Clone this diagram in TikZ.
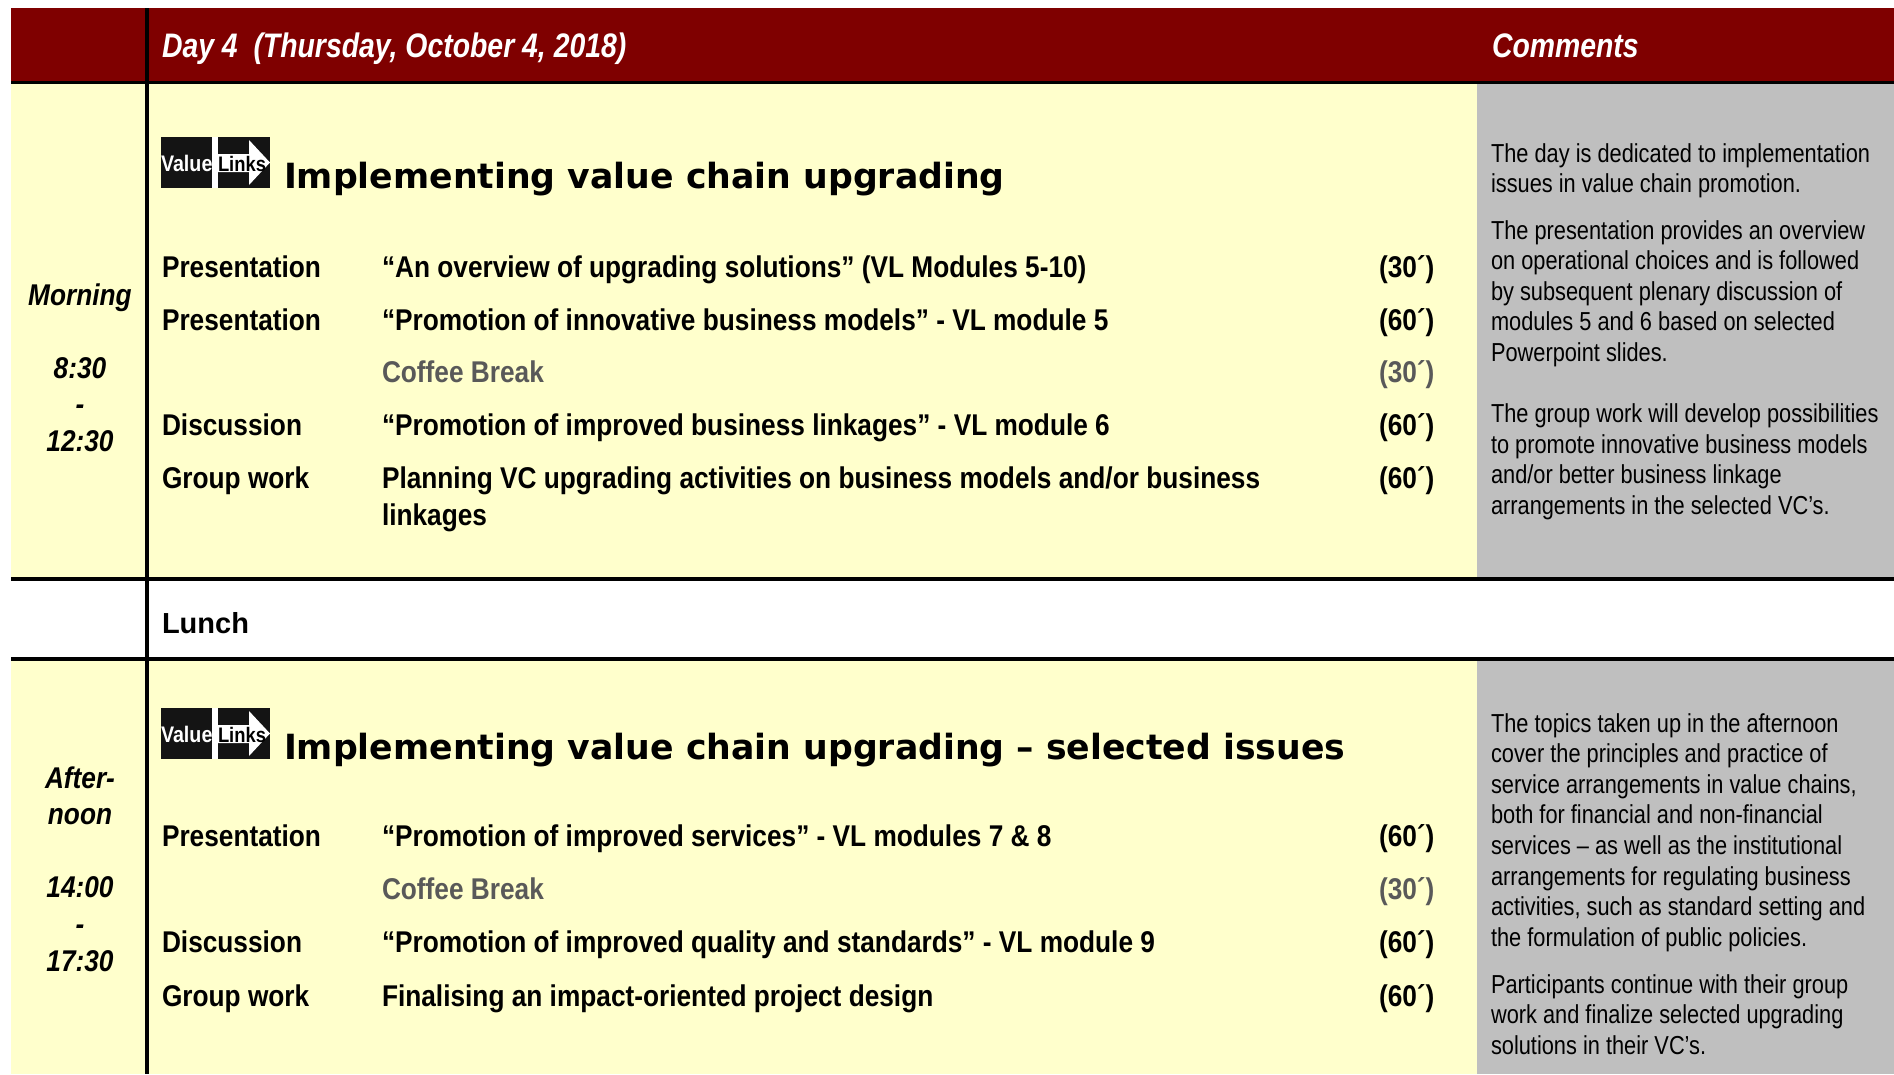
\documentclass[tikz,border=0pt]{standalone}
\usepackage{fontspec}
\setmainfont[FakeStretch=0.875]{Liberation Sans}
\newfontfamily\plainsans{Liberation Sans}
\newfontfamily\titlefont{DejaVu Sans}
\newfontfamily\headfont[FakeStretch=0.835]{Liberation Sans}
\newfontfamily\rowfont[FakeStretch=0.875]{Liberation Sans}
\newfontfamily\cmtfont[FakeStretch=0.838]{Liberation Sans}
\definecolor{hdr}{HTML}{7F0000}
\definecolor{yel}{HTML}{FFFFCC}
\definecolor{gry}{HTML}{BFBFBF}
\definecolor{brk}{HTML}{595959}
\newcommand{\parlines}[1]{\begin{tabular}[t]{@{}l@{}}#1\end{tabular}}
\newcommand{\midlines}[1]{\begin{tabular}[t]{@{}c@{}}#1\end{tabular}}
\tikzset{
  txt/.style={anchor=base west,inner sep=0pt,outer sep=0pt},
  headtxt/.style={txt,text=white,font=\headfont\fontsize{34}{38}\selectfont\bfseries\itshape},
  titletxt/.style={txt,font=\titlefont\fontsize{34.7}{40}\selectfont\bfseries},
  rowtxt/.style={txt,font=\rowfont\fontsize{30}{37}\selectfont\bfseries},
  breaktxt/.style={rowtxt,text=brk},
  timetxt/.style={anchor=base,inner sep=0pt,outer sep=0pt,font=\rowfont\fontsize{30}{36.6}\selectfont\bfseries\itshape},
  cmttxt/.style={txt,font=\cmtfont\fontsize{26}{30.6}\selectfont},
  rule/.style={line width=3.6pt,black},
  vllogo/.pic={
    \fill[black!92] (0,0) rectangle (109,51);
    \fill[white] (51,0) rectangle (57,51);
    \fill[white] (57,17) -- (88,17) -- (88,3) -- (109,25.5) -- (88,48) -- (88,35) -- (57,35) -- cycle;
    \node[txt,text=white,font=\rowfont\fontsize{22.5}{24}\selectfont\bfseries] at (0,34) {Value};
    \node[txt,text=black,font=\rowfont\fontsize{21}{24}\selectfont\bfseries] at (57,34) {Links};
  }
}
\begin{document}
\begin{tikzpicture}[x=1pt,y=-1pt]
\useasboundingbox (0,0) rectangle (1894,1074);
\fill[white] (0,0) rectangle (1894,1074);
% bands
\fill[hdr] (11,8) rectangle (1894,82);
\fill[yel] (11,82) rectangle (1477,579);
\fill[gry] (1477,82) rectangle (1894,579);
\fill[yel] (11,659) rectangle (1477,1074);
\fill[gry] (1477,659) rectangle (1894,1074);
% rules
\draw[line width=3pt,black] (11,82) -- (1894,82);
\draw[rule] (11,579) -- (1894,579);
\draw[rule] (11,659) -- (1894,659);
\draw[rule] (147,8) -- (147,1074);
% header
\node[headtxt] (hday) at (162,57) {Day 4\ \ (Thursday, October 4, 2018)};
\node[headtxt] (hcom) at (1492,57) {Comments};
% logos
\pic at (161,137) {vllogo};
\pic at (161,708) {vllogo};
% titles
\node[titletxt] (t1) at (284,188) {Implementing value chain upgrading};
\node[titletxt] (t2) at (284,759) {Implementing value chain upgrading – selected issues};
% left column
\node[timetxt] (morn) at (80,305) {\midlines{Morning\\ \\ 8:30\\-\\12:30}};
\node[timetxt] (aft) at (80,788) {\midlines{After-\\noon\\ \\14:00\\-\\17:30}};
% morning rows
\node[rowtxt] (a1) at (162,277.5) {Presentation};
\node[rowtxt] (b1) at (382,277.5) {“An overview of upgrading solutions” (VL Modules 5-10)};
\node[rowtxt] (c1) at (1379,277.5) {(30´)};
\node[rowtxt] (a2) at (162,330) {Presentation};
\node[rowtxt] (b2) at (382,330) {“Promotion of innovative business models” - VL module 5};
\node[rowtxt] (c2) at (1379,330) {(60´)};
\node[breaktxt] (b3) at (382,382.5) {Coffee Break};
\node[breaktxt] (c3) at (1379,382.5) {(30´)};
\node[rowtxt] (a4) at (162,435.5) {Discussion};
\node[rowtxt] (b4) at (382,435.5) {“Promotion of improved business linkages” - VL module 6};
\node[rowtxt] (c4) at (1379,435.5) {(60´)};
\node[rowtxt] (a5) at (162,488.5) {Group work};
\node[rowtxt] (b5) at (382,488.5) {\parlines{Planning VC upgrading activities on business models and/or business\\linkages}};
\node[rowtxt] (c5) at (1379,488.5) {(60´)};
% lunch
\node[txt,font=\plainsans\fontsize{29}{32}\selectfont\bfseries] (lunch) at (162,633) {Lunch};
% afternoon rows
\node[rowtxt] (d1) at (162,846.5) {Presentation};
\node[rowtxt] (e1) at (382,846.5) {“Promotion of improved services” - VL modules 7 \& 8};
\node[rowtxt] (f1) at (1379,846.5) {(60´)};
\node[breaktxt] (e2) at (382,899.5) {Coffee Break};
\node[breaktxt] (f2) at (1379,899.5) {(30´)};
\node[rowtxt] (d3) at (162,952.5) {Discussion};
\node[rowtxt] (e3) at (382,952.5) {“Promotion of improved quality and standards” - VL module 9};
\node[rowtxt] (f3) at (1379,952.5) {(60´)};
\node[rowtxt] (d4) at (162,1006) {Group work};
\node[rowtxt] (e4) at (382,1006) {Finalising an impact-oriented project design};
\node[rowtxt] (f4) at (1379,1006) {(60´)};
% comments
\node[cmttxt] (m1) at (1491,162) {\parlines{The day is dedicated to implementation\\issues in value chain promotion.}};
\node[cmttxt] (m2) at (1491,239) {\parlines{The presentation provides an overview\\on operational choices and is followed\\by subsequent plenary discussion of\\modules 5 and 6 based on selected\\Powerpoint slides.}};
\node[cmttxt] (m3) at (1491,422.6) {\parlines{The group work will develop possibilities\\to promote innovative business models\\and/or better business linkage\\arrangements in the selected VC’s.}};
\node[cmttxt] (m4) at (1491,732) {\parlines{The topics taken up in the afternoon\\cover the principles and practice of\\service arrangements in value chains,\\both for financial and non-financial\\services – as well as the institutional\\arrangements for regulating business\\activities, such as standard setting and\\the formulation of public policies.}};
\node[cmttxt] (m5) at (1491,993) {\parlines{Participants continue with their group\\work and finalize selected upgrading\\solutions in their VC’s.}};
\end{tikzpicture}
\end{document}
